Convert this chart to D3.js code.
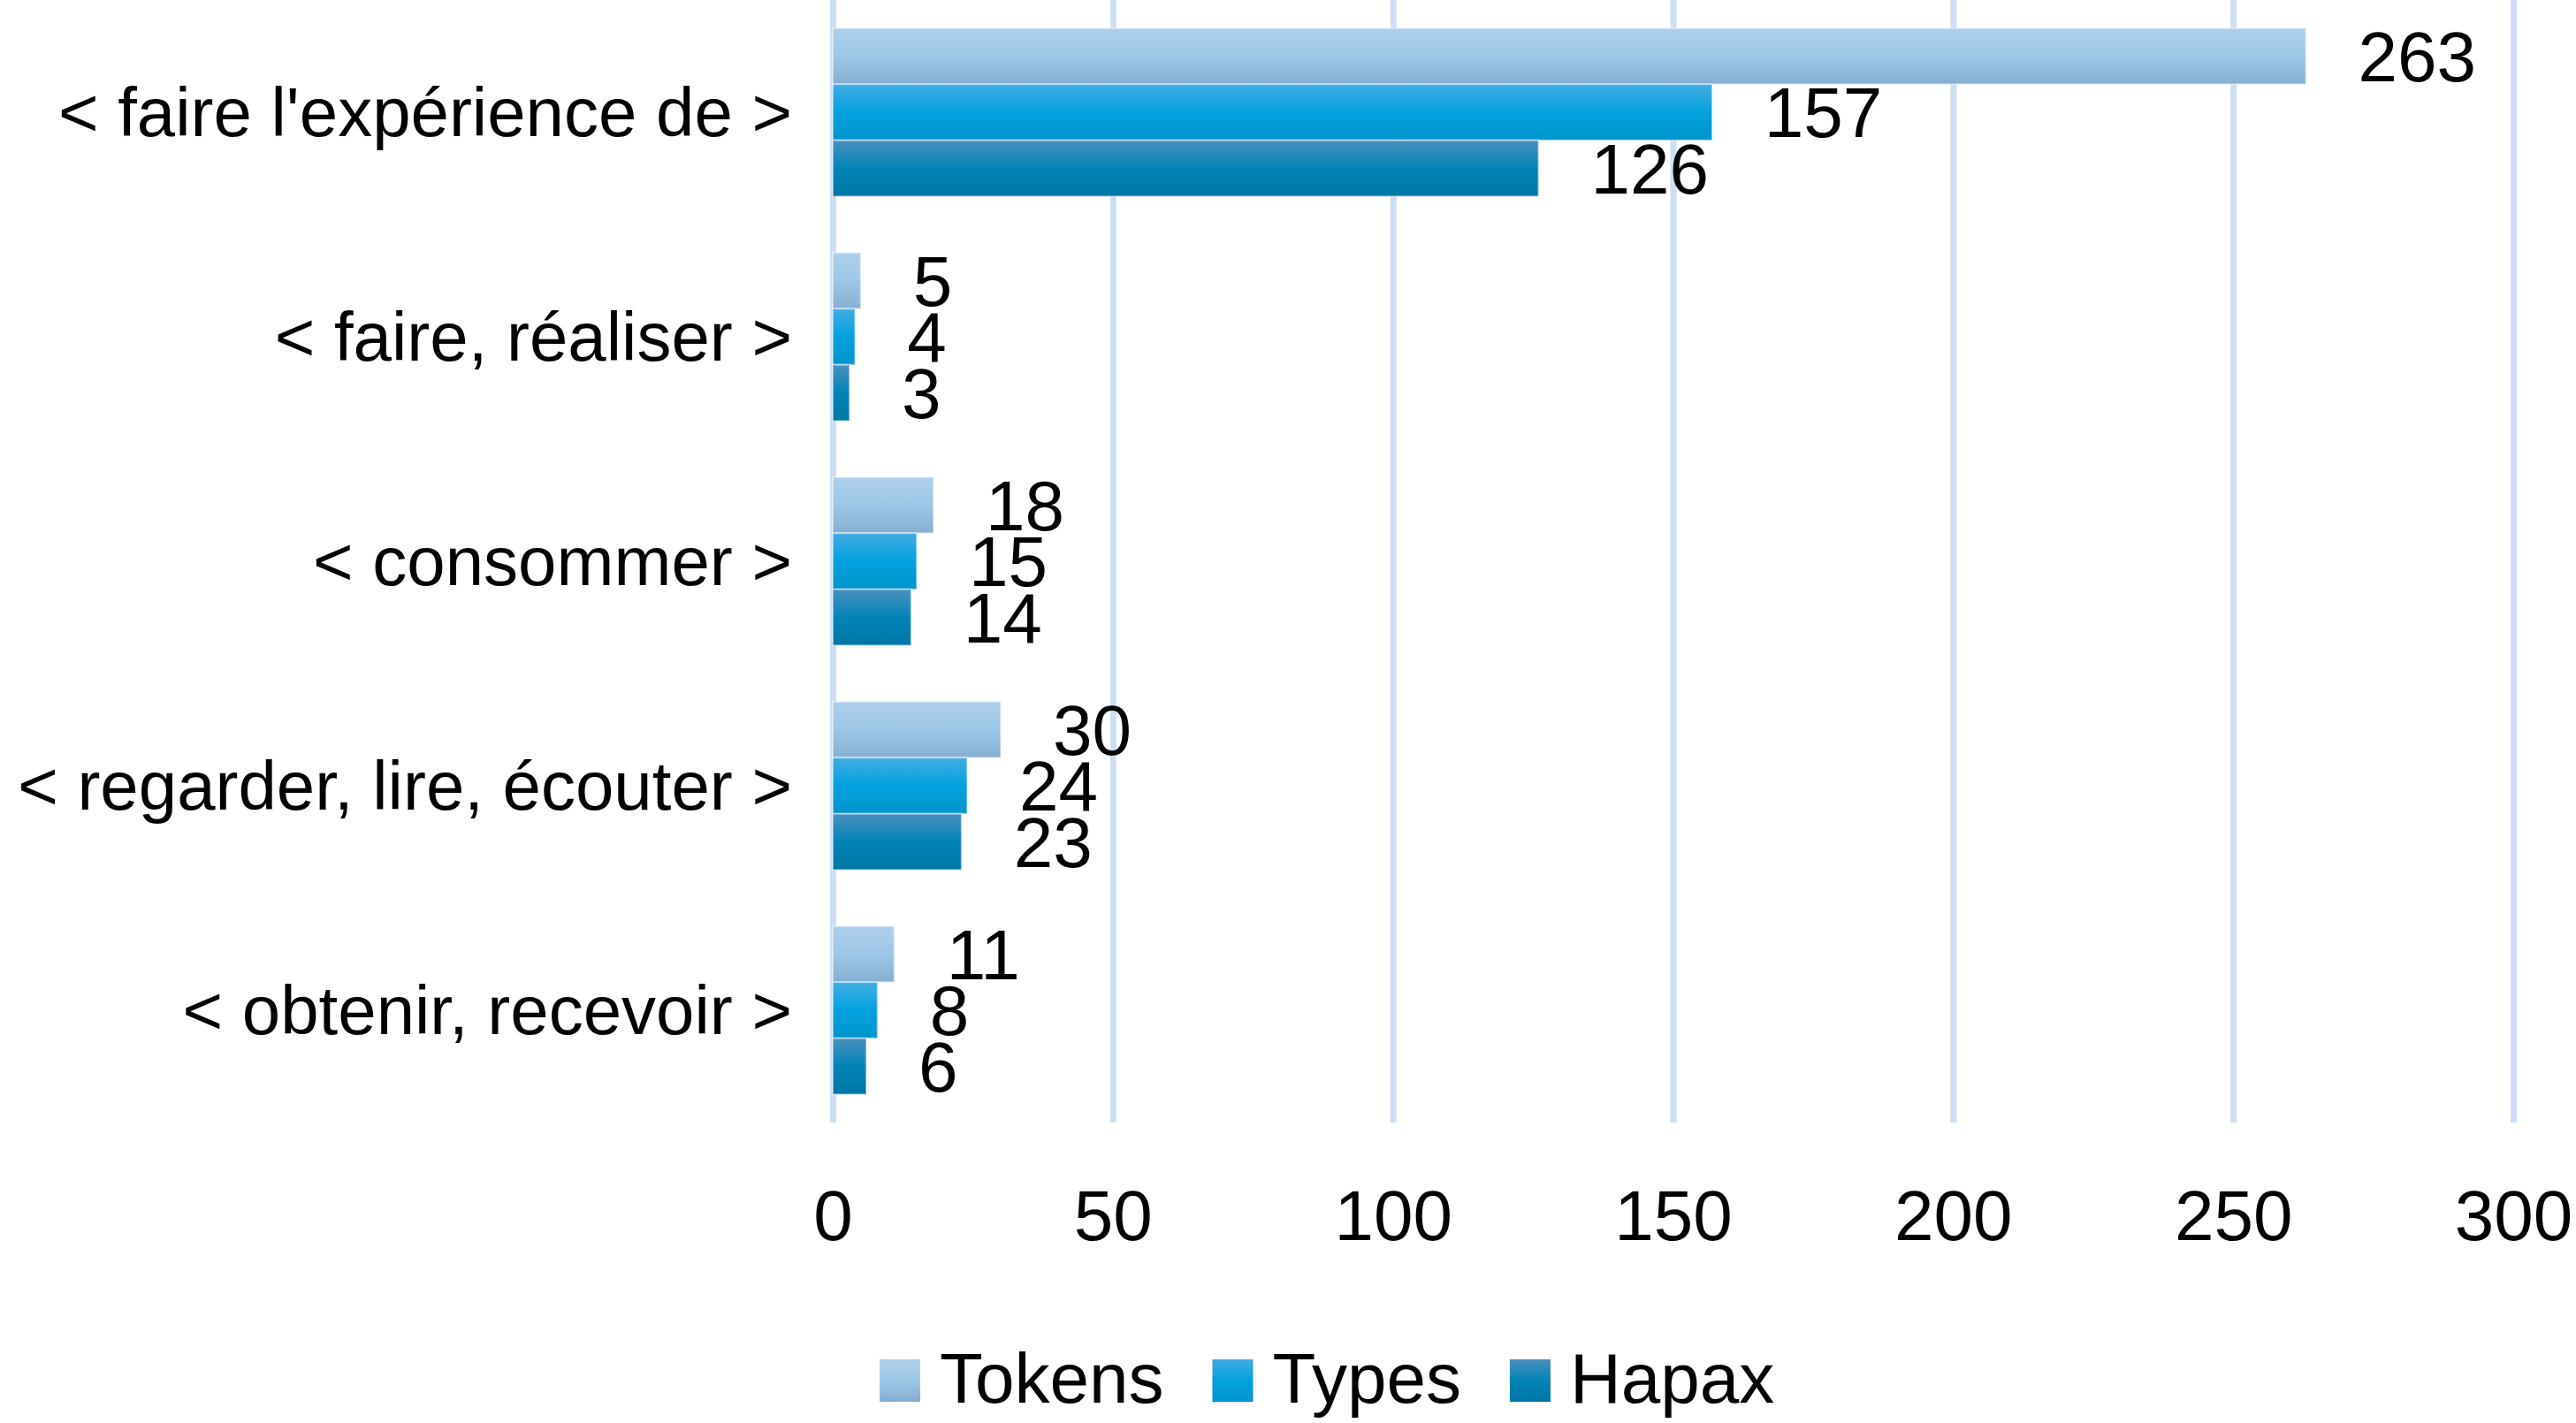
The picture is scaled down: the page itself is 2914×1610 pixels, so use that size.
<!DOCTYPE html>
<html>
<head>
<meta charset="utf-8">
<script src="https://cdn.jsdelivr.net/npm/d3@7"></script>
<style>
  body { margin: 0; background: #fff; }
  text { font-family: "Liberation Sans", Arial, sans-serif; fill: #000; }
</style>
</head>
<body>
<div id="chart"></div>
<script>
const categories = [
    "< faire l'expérience de >",
    "< faire, réaliser >",
    "< consommer >",
    "< regarder, lire, écouter >",
    "< obtenir, recevoir >"
];
const seriesNames = ['Tokens', 'Types', 'Hapax'];
const tokens = [263, 5, 18, 30, 11];
const types = [157, 4, 15, 24, 8];
const hapax = [126, 3, 14, 23, 6];
const xTicks = [0, 50, 100, 150, 200, 250, 300];

const seriesValues = [tokens, types, hapax];

// gradient stops per series (top, middle, bottom)
const gradients = [
    ['#b0d0ec', '#9cc7e7', '#86aed3'],
    ['#42ace2', '#03a2df', '#0094cb'],
    ['#4a90bd', '#0284b8', '#0076a5']
];

const W = 2914, H = 1610;
const margin = { top: 0, left: 942, right: 71, bottom: 340 };
const plotH = H - margin.top - margin.bottom;

const svg = d3.select('#chart').append('svg')
    .attr('width', W)
    .attr('height', H);

const defs = svg.append('defs');
gradients.forEach((g, i) => {
    const lg = defs.append('linearGradient')
        .attr('id', 'grad' + i)
        .attr('x1', 0).attr('y1', 0)
        .attr('x2', 0).attr('y2', 1);
    lg.append('stop').attr('offset', '0%').attr('stop-color', g[0]);
    lg.append('stop').attr('offset', '50%').attr('stop-color', g[1]);
    lg.append('stop').attr('offset', '100%').attr('stop-color', g[2]);
});

const x = d3.scaleLinear().domain([0, 300]).range([margin.left, W - margin.right]);
const y = d3.scaleBand().domain(categories).range([margin.top, margin.top + plotH])
    .paddingInner(0.25).paddingOuter(0.125);
const ySub = d3.scaleBand().domain(seriesNames).range([0, y.bandwidth()]);

// gridlines + tick labels
const xAxis = d3.axisBottom(x).tickValues(xTicks).tickSize(-plotH).tickPadding(76);
const axisG = svg.append('g')
    .attr('transform', `translate(0,${margin.top + plotH})`)
    .call(xAxis);
axisG.select('.domain').remove();
axisG.selectAll('line')
    .attr('stroke', '#cddff3')
    .attr('stroke-width', 7);
axisG.selectAll('text')
    .style('font-family', '"Liberation Sans", Arial, sans-serif')
    .style('font-size', '80px')
    .attr('fill', '#000');

// category labels
svg.append('g').selectAll('text')
    .data(categories)
    .enter().append('text')
    .attr('x', margin.left - 46)
    .attr('y', d => y(d) + y.bandwidth() / 2 + 27)
    .attr('text-anchor', 'end')
    .style('font-size', '78px')
    .text(d => d);

// bars
const rows = [];
categories.forEach((c, ci) => {
    seriesNames.forEach((s, si) => {
        rows.push({ cat: c, series: s, si: si, value: seriesValues[si][ci] });
    });
});

const bars = svg.append('g');
bars.selectAll('rect')
    .data(rows)
    .enter().append('rect')
    .attr('x', x(0))
    .attr('y', d => y(d.cat) + ySub(d.series))
    .attr('width', d => x(d.value) - x(0))
    .attr('height', ySub.bandwidth())
    .attr('fill', d => `url(#grad${d.si})`)
    .attr('stroke', 'rgba(255,255,255,0.45)')
    .attr('stroke-width', 2);

bars.selectAll('text')
    .data(rows)
    .enter().append('text')
    .attr('x', d => x(d.value) + 59)
    .attr('y', d => y(d.cat) + ySub(d.series) + ySub.bandwidth() / 2 + 28)
    .style('font-size', '80px')
    .text(d => d.value);

// legend
const legend = svg.append('g').attr('transform', 'translate(0,1538)');
let lx = 995;
seriesNames.forEach((s, i) => {
    legend.append('rect')
        .attr('x', lx)
        .attr('y', 0)
        .attr('width', 46)
        .attr('height', 48)
        .attr('fill', `url(#grad${i})`);
    const t = legend.append('text')
        .attr('x', lx + 68)
        .attr('y', 49)
        .style('font-size', '80px')
        .text(s);
    lx += 68 + t.node().getComputedTextLength() + 55;
});
</script>
</body>
</html>
